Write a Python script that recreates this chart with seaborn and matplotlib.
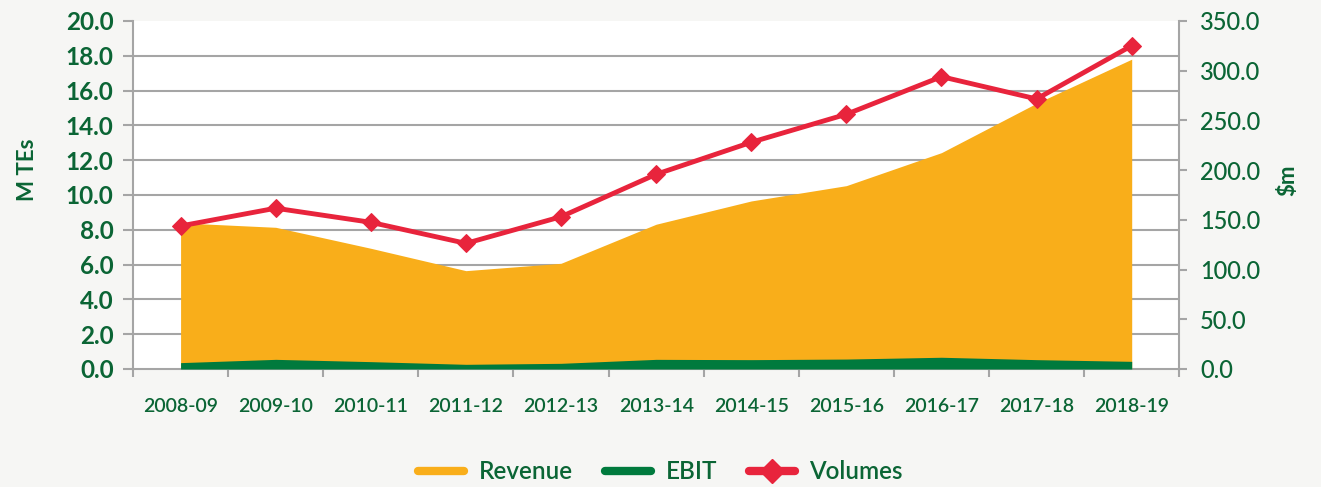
import numpy as np
import pandas as pd
import matplotlib
matplotlib.use("Agg")
import matplotlib.pyplot as plt
from matplotlib.lines import Line2D
import seaborn as sns

years = ["2008-09", "2009-10", "2010-11", "2011-12", "2012-13", "2013-14",
         "2014-15", "2015-16", "2016-17", "2017-18", "2018-19"]
volumes = [8.22, 9.24, 8.43, 7.22, 8.75, 11.19, 13.03, 14.64, 16.80, 15.52, 18.58]   # M TEs
revenue = [147.0, 142.5, 121.4, 98.9, 106.3, 145.6, 169.0, 184.4, 217.6, 267.3, 311.6]  # $m
ebit = [6.4, 9.7, 7.4, 4.7, 5.7, 9.7, 9.4, 10.0, 11.8, 9.4, 7.7]  # $m
left_ticks = [0, 2, 4, 6, 8, 10, 12, 14, 16, 18, 20]
right_ticks = [0, 50, 100, 150, 200, 250, 300, 350]

ORANGE = "#F9AE1A"
GREEN = "#007A3D"
RED = "#E8243C"
TXT = "#0B6535"
GRID = "#A5A5A5"
BG = "#F6F6F4"

sns.set_theme(style="white")
plt.rcParams["font.family"] = ["Lato", "DejaVu Sans"]

df = pd.DataFrame({"year": years, "pos": np.arange(len(years)),
                   "volumes": volumes, "revenue": revenue, "ebit": ebit})

fig = plt.figure(figsize=(13.21, 4.87), dpi=100, facecolor=BG)
ax_area = fig.add_axes([0.1007, 0.2423, 0.7920, 0.7146])
ax_area.set_facecolor("white")
ax_line = ax_area.twinx()
ax_line.set_zorder(ax_area.get_zorder() + 1)
ax_line.patch.set_visible(False)

# swap sides: volumes axis on the left, $m axis on the right
ax_line.yaxis.tick_left()
ax_line.yaxis.set_label_position("left")
ax_area.yaxis.tick_right()
ax_area.yaxis.set_label_position("right")

# areas ($m)
ax_area.fill_between(df["pos"], df["revenue"], color=ORANGE, lw=0, zorder=2)
ax_area.fill_between(df["pos"], df["ebit"], color=GREEN, lw=0, zorder=3)
ax_area.set_ylim(0, 350)
ax_area.set_yticks(right_ticks)
ax_area.set_yticklabels([f"{v:.1f}" for v in right_ticks])
ax_area.set_yticks(np.linspace(0, 350, len(left_ticks)), minor=True)
ax_area.grid(False)
ax_area.grid(which="minor", axis="y", color=GRID, lw=1.5)
ax_area.set_axisbelow(True)
ax_area.tick_params(axis="y", which="minor", length=0)
ax_area.tick_params(axis="y", which="major", length=6, width=1.5, color=GRID,
                    labelsize=17, labelcolor=TXT, pad=9)
for lab in ax_area.get_yticklabels():
    lab.set_fontweight("medium")

ax_area.set_xlim(-0.5, len(years) - 0.5)
ax_area.set_xticks(df["pos"])
ax_area.set_xticklabels(years)
ax_area.set_xticks(np.arange(-0.5, len(years), 1.0), minor=True)
ax_area.tick_params(axis="x", which="major", length=0, labelsize=14, labelcolor=TXT, pad=21)
ax_area.tick_params(axis="x", which="minor", length=6, width=1.5, color=GRID, bottom=True)
for lab in ax_area.get_xticklabels():
    lab.set_fontweight("semibold")

for s in ["left", "bottom", "right"]:
    ax_area.spines[s].set_color(GRID)
    ax_area.spines[s].set_linewidth(1.5)
ax_area.spines["top"].set_visible(False)
ax_area.set_ylabel("$m", fontsize=16, fontweight="bold", color=TXT, rotation=90)
ax_area.yaxis.set_label_coords(1.094, 0.543)
ax_area.set_xlabel("")

# volumes line (M TEs)
sns.lineplot(data=df, x="pos", y="volumes", ax=ax_line, color=RED, lw=3.5,
             marker="D", markersize=9, markeredgecolor=RED, zorder=5)
ax_line.set_ylim(0, 20)
ax_line.set_yticks(left_ticks)
ax_line.set_yticklabels([f"{v:.1f}" for v in left_ticks])
ax_line.tick_params(axis="y", length=7, width=1.5, color=GRID, labelsize=17.5,
                    labelcolor=TXT, pad=7)
for lab in ax_line.get_yticklabels():
    lab.set_fontweight("bold")
for s in ax_line.spines.values():
    s.set_visible(False)
ax_line.set_ylabel("M TEs", fontsize=16, fontweight="bold", color=TXT)
ax_line.yaxis.set_label_coords(-0.091, 0.572)
ax_line.set_xlabel("")
ax_line.grid(False)
if ax_line.get_legend():
    ax_line.get_legend().remove()

handles = [Line2D([], [], color=ORANGE, lw=6),
           Line2D([], [], color=GREEN, lw=6),
           Line2D([], [], color=RED, lw=6, marker="D", markersize=12)]
leg = fig.legend(handles, ["Revenue", "EBIT", "Volumes"], loc="center",
                 bbox_to_anchor=(0.5, 0.031), ncol=3, frameon=False,
                 fontsize=17.5, handlelength=1.9, columnspacing=1.3, handletextpad=0.6)
for t in leg.get_texts():
    t.set_color(TXT)
    t.set_fontweight("semibold")

fig.savefig("out.png", dpi=100, facecolor=BG)
